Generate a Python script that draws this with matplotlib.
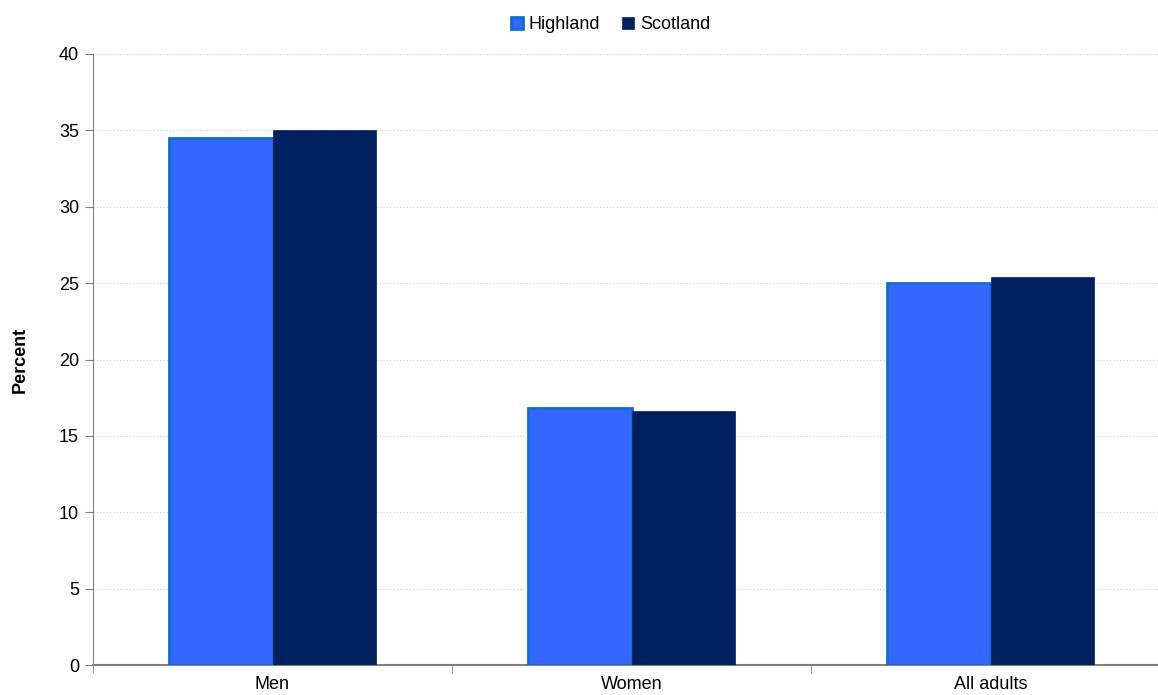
import matplotlib.pyplot as plt
import numpy as np

plt.rcParams['font.family'] = ['Liberation Sans', 'DejaVu Sans']

categories = ['Men', 'Women', 'All adults']
highland = [34.5, 16.8, 25.0]
scotland = [35.0, 16.6, 25.4]

fig = plt.figure(figsize=(11.58, 6.95), dpi=100)
ax = fig.add_axes([93 / 1158, 30 / 695, 1077 / 1158, 611 / 695])

x = np.arange(len(categories))
w = 0.287
ax.bar(x - w / 2, highland, w, color='#3366FF', edgecolor='#1070C8',
       linewidth=2, label='Highland', zorder=3)
ax.bar(x + w / 2, scotland, w, color='#002060', edgecolor='#002060',
       linewidth=0.5, label='Scotland', zorder=3)

ax.set_xlim(-0.5, 2.5)
ax.set_ylim(0, 40)
ax.set_yticks(range(0, 41, 5))
ax.set_xticks(x)
ax.set_xticklabels(categories, fontsize=13)
ax.set_xticks([-0.5, 0.5, 1.5, 2.5], minor=True)
ax.tick_params(axis='x', which='major', length=0, pad=8)
ax.tick_params(axis='x', which='minor', length=6, color='#808080')
ax.tick_params(axis='y', labelsize=13, length=6, color='#808080', pad=4)
ax.yaxis.grid(True, linestyle=(0, (1, 2)), color='#c8c8c8', linewidth=0.8, zorder=0)

for s in ['top', 'right']:
    ax.spines[s].set_visible(False)
ax.spines['left'].set_color('#808080')
ax.spines['bottom'].set_color('#808080')
ax.spines['bottom'].set_linewidth(1.5)

ax.set_ylabel('Percent', fontsize=13, fontweight='bold', labelpad=22)

fig.legend(loc='upper center', bbox_to_anchor=(0.527, 1.0), ncol=2, frameon=False,
           fontsize=13, handlelength=0.7, handleheight=0.7, handletextpad=0.3,
           columnspacing=1.2)

fig.savefig('out.png', dpi=100)
